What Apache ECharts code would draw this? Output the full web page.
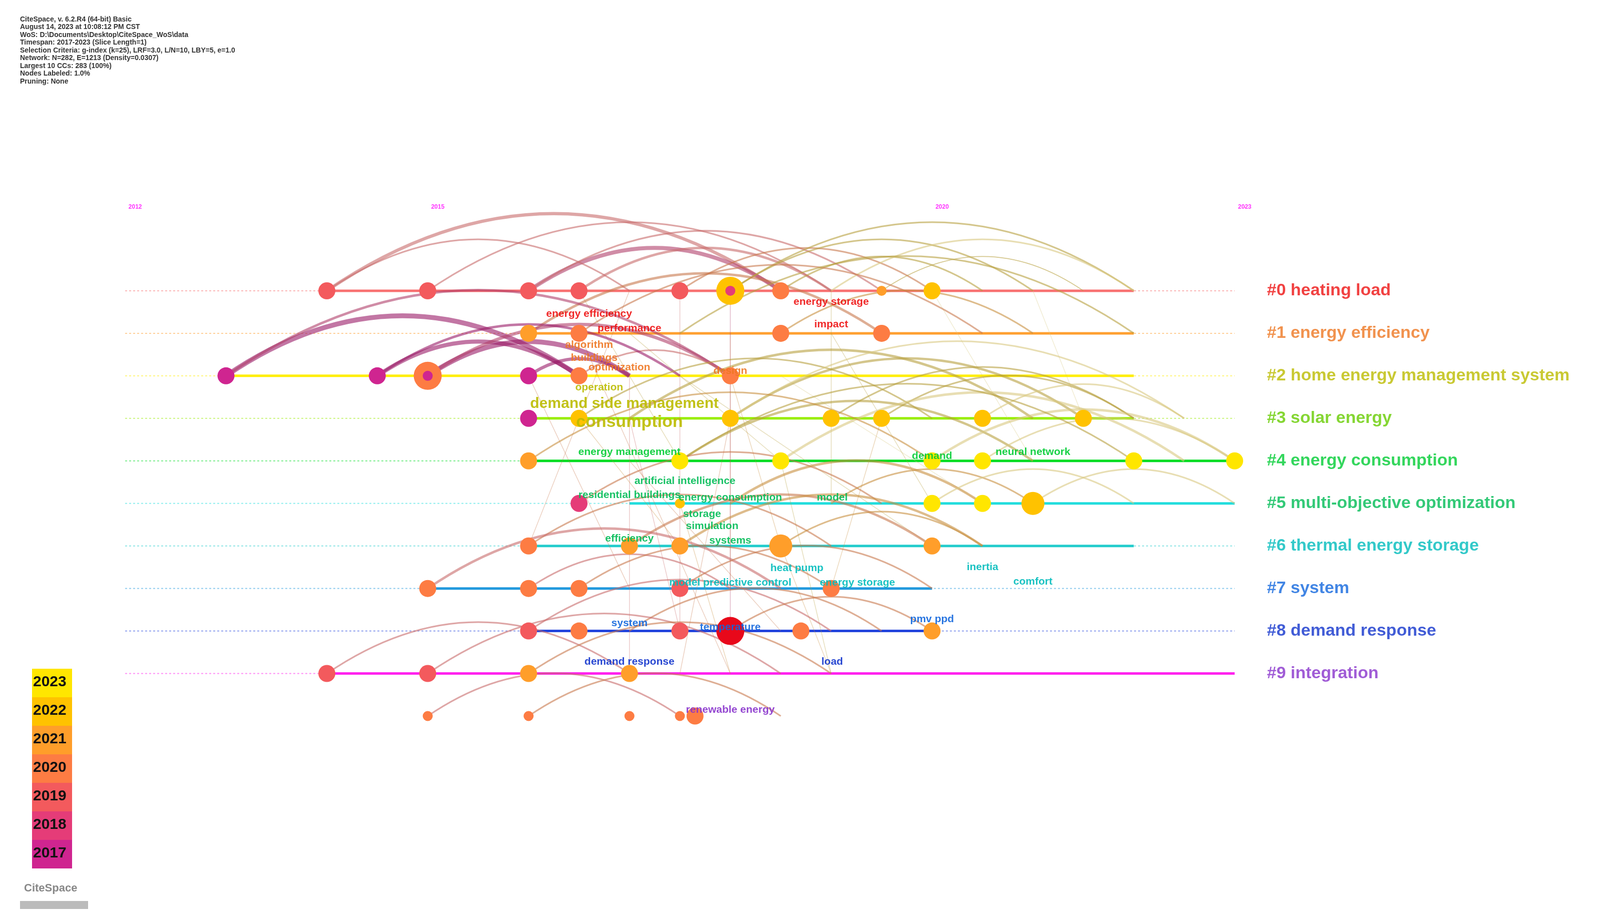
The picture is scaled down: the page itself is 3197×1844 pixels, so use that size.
<!DOCTYPE html>
<html><head><meta charset="utf-8">
<script src="https://cdn.jsdelivr.net/npm/echarts@6/dist/echarts.min.js"></script>
<style>html,body{margin:0;background:#fff}#c{width:3197px;height:1844px}</style></head>
<body><div id="c"></div><script>
const yearTicks = [2012, 2015, 2020, 2023];
const clusterLabels = ['#0 heating load','#1 energy efficiency','#2 home energy management system','#3 solar energy','#4 energy consumption','#5 multi-objective optimization','#6 thermal energy storage','#7 system','#8 demand response','#9 integration'];
const clusterColors = ['#ee1111','#ee7722','#bbbb00','#66cc00','#00cc33','#00bb55','#00bbbb','#1166dd','#1133cc','#8833cc'];
const rowLineColors = ['#f87070','#ffa030','#ffee00','#99ee00','#00dd22','#22dddd','#22cccc','#2299dd','#2244dd','#ff22ee'];
const rowSpans = [[0,2014,2022],[1,2016,2022],[2,2013,2022],[3,2016,2022],[4,2016,2023],[5,2017,2023],[6,2016,2022],[7,2015,2020],[8,2016,2020],[9,2014,2023]];
// nodes [year,row,yearColor,sizeClass]
const nodes = [
[2014,0,2019,0],[2015,0,2019,0],[2016,0,2019,0],[2016.5,0,2019,0],[2017.5,0,2019,0],[2018,0,2022,2],[2018,0,2018,-1],[2018.5,0,2020,0],[2019.5,0,2021,-1],[2020,0,2022,0],
[2016,1,2021,0],[2016.5,1,2020,0],[2018.5,1,2020,0],[2019.5,1,2020,0],
[2013,2,2017,0],[2014.5,2,2017,0],[2015,2,2020,2],[2015,2,2017,-1],[2016,2,2017,0],[2016.5,2,2020,0],[2018,2,2020,0],
[2016,3,2017,0],[2016.5,3,2022,0],[2018,3,2022,0],[2019,3,2022,0],[2019.5,3,2022,0],[2020.5,3,2022,0],[2021.5,3,2022,0],
[2016,4,2021,0],[2017.5,4,2023,0],[2018.5,4,2023,0],[2020,4,2023,0],[2020.5,4,2023,0],[2022,4,2023,0],[2023,4,2023,0],
[2016.5,5,2018,0],[2017.5,5,2022,-1],[2020,5,2023,0],[2020.5,5,2023,0],[2021,5,2022,1],
[2016,6,2020,0],[2017,6,2021,0],[2017.5,6,2021,0],[2018.5,6,2021,1],[2020,6,2021,0],
[2015,7,2020,0],[2016,7,2020,0],[2016.5,7,2020,0],[2017.5,7,2019,0],[2019,7,2020,0],
[2016,8,2019,0],[2016.5,8,2020,0],[2017.5,8,2019,0],[2018,8,2016,3],[2018.7,8,2020,0],[2020,8,2021,0],
[2014,9,2019,0],[2015,9,2019,0],[2016,9,2021,0],[2017,9,2021,0],
[2015,10,2020,-1],[2016,10,2020,-1],[2017,10,2020,-1],[2017.5,10,2020,-1],[2017.65,10,2020,0]
];
// links [row, fromYear, toYear, yearColor, width]
const links = [
[0,2014,2018.5,2019,4],[0,2015,2019,2019,2],[0,2016,2018.5,2018,5],[0,2016,2019.5,2019,2],[0,2016.5,2019,2019,3],[0,2017.5,2020,2020,2],[0,2018,2021,2022,2],[0,2018,2022,2022,2],[0,2018.5,2020.5,2022,2],[0,2019,2022,2023,2],[0,2019.5,2021.5,2022,1],[0,2014,2017,2019,2],
[1,2016,2019.5,2020,3],[1,2016.5,2020.5,2020,2],[1,2018.5,2021,2021,2],[1,2017.5,2022,2022,2],
[2,2013,2016.5,2017,6],[2,2014.5,2016.5,2017,5],[2,2015,2017,2017,6],[2,2016,2017,2017,4],[2,2015,2018,2018,4],[2,2013,2018,2018,3],[2,2016.5,2018,2019,2],[2,2014.5,2017.5,2017,3],
[3,2017,2021,2022,3],[3,2018,2021.5,2022,3],[3,2019,2022,2022,2],[3,2019.5,2022,2022,2],[3,2016.5,2020,2022,2],[3,2020.5,2022.5,2023,2],[3,2018,2022.5,2023,2],
[4,2017.5,2021,2022,3],[4,2018.5,2022.5,2023,3],[4,2020,2023,2023,3],[4,2020.5,2023,2023,2],[4,2016,2020,2021,2],[4,2017.5,2022,2022,2],
[5,2016.5,2019.5,2020,2],[5,2018,2020.5,2021,3],[5,2019,2021,2021,2],[5,2020,2022,2023,2],[5,2021,2023,2023,2],
[6,2016,2019,2020,2],[6,2017,2020,2020,3],[6,2017.5,2020.5,2021,3],[6,2018.5,2020.5,2021,2],
[7,2015,2018.5,2019,3],[7,2016,2018,2019,2],[7,2016.5,2019,2020,2],[7,2017.5,2020,2020,2],
[8,2016,2019,2019,2],[8,2017,2019.5,2020,2],[8,2018,2020,2020,2],
[9,2014,2017,2019,2],[9,2015,2018.5,2019,2],[9,2016,2019,2020,2],
[10,2015,2017.5,2019,2],[10,2016,2018.5,2020,2]
];
// faint cross-cluster links [rowA, yearA, rowB, yearB, yearColor]
const crossLinks = [
[0,2017.5,8,2017.5,2019],[0,2018,8,2018,2018],[2,2017,9,2017,2019],[1,2018,7,2018,2020],[3,2016.5,6,2017.5,2021],[0,2016.5,4,2017.5,2022],
[2,2018,6,2018.5,2021],[1,2019,5,2020,2022],[0,2020,4,2021,2023],[3,2017,8,2017.5,2019],[2,2016,7,2017,2020],[4,2018.5,9,2019,2022],
[1,2016.5,9,2018,2020],[0,2019,5,2019,2022],[2,2017.5,6,2020,2022],[3,2018,9,2017.5,2020],[5,2017.5,9,2018,2021],[0,2017,6,2016,2020],
[1,2017,4,2018.5,2022],[4,2017,8,2018.5,2020],[3,2019.5,7,2019,2021],[2,2018.5,5,2020.5,2023],[0,2021,3,2021.5,2023],[6,2018.5,9,2019,2021]
];
const keywords = [
[2019.0,0.26,'energy storage',0],[2016.6,0.55,'energy efficiency',0],[2017,0.89,'performance',0],[2019,0.79,'impact',0],
[2016.6,1.27,'algorithm',1],[2016.65,1.58,'buildings',1],[2016.9,1.8,'optimization',1],[2018,1.89,'design',1],
[2016.7,2.28,'operation',2],[2016.95,2.66,'demand side management',2],[2017,3.09,'consumption',2],
[2017,3.79,'energy management',4],[2020,3.89,'demand',4],[2021,3.79,'neural network',4],
[2017.55,4.48,'artificial intelligence',5],[2017,4.8,'residential buildings',5],[2018,4.87,'energy consumption',5],[2019.01,4.87,'model',5],[2017.72,5.25,'storage',5],[2017.82,5.54,'simulation',5],[2017,5.83,'efficiency',5],[2018,5.88,'systems',5],
[2018.66,6.52,'heat pump',6],[2020.5,6.5,'inertia',6],[2021,6.84,'comfort',6],[2018,6.86,'model predictive control',6],[2019.26,6.86,'energy storage',6],
[2017,7.82,'system',7],[2018,7.91,'temperature',7],[2020,7.72,'pmv ppd',7],
[2017,8.73,'demand response',8],[2019.01,8.73,'load',8],[2018,9.86,'renewable energy',9]
];
const bigFont = {'demand side management':30,'consumption':34};
const legendYears = [2023,2022,2021,2020,2019,2018,2017];
const nodeColor = {2016:'#e8081a',2017:'#cf2590',2018:'#e53c78',2019:'#f35a5d',2020:'#fd7c43',2021:'#ff9e2a',2022:'#ffc200',2023:'#ffe600'};
const linkColor = {2017:'#9a1a68',2018:'#b0406a',2019:'#c86a6a',2020:'#c8784c',2021:'#c89040',2022:'#b8a040',2023:'#d8c880'};
const headerLines = ['CiteSpace, v. 6.2.R4 (64-bit) Basic','August 14, 2023 at 10:08:12 PM CST','WoS: D:\\Documents\\Desktop\\CiteSpace_WoS\\data','Timespan: 2017-2023 (Slice Length=1)','Selection Criteria: g-index (k=25), LRF=3.0, L/N=10, LBY=5, e=1.0','Network: N=282, E=1213 (Density=0.0307)','Largest 10 CCs: 283 (100%)','Nodes Labeled: 1.0%','Pruning: None'];

const chart = echarts.init(document.getElementById('c'));
const sizeOf = b => b===2?56:b===1?46:b===3?56:b===-1?20:34;
const graphic = [];
headerLines.forEach((t,i)=>graphic.push({type:'text',left:40,top:32+i*15.5,style:{text:t,font:'bold 14px Liberation Sans',fill:'#333'}}));
legendYears.forEach((y,i)=>{
  graphic.push({type:'rect',shape:{x:64,y:1336+i*57,width:80,height:57},style:{fill:nodeColor[y]}});
  graphic.push({type:'text',left:66,top:1348+i*57,style:{text:String(y),font:'bold 30px Liberation Sans',fill:'#111'}});
});
graphic.push({type:'text',left:48,top:1764,style:{text:'CiteSpace',font:'bold 22px Liberation Sans',fill:'#888'}});
graphic.push({type:'rect',shape:{x:40,y:1800,width:136,height:16},style:{fill:'#bbb'}});

chart.setOption({
  animation:false,
  grid:{left:250,width:2217,top:411,height:1062},
  xAxis:{type:'value',min:2012,max:2023,show:false},
  yAxis:{type:'value',min:-2,max:10.5,inverse:true,show:false},
  graphic,
  series:[
    {type:'custom',clip:false,data:rowSpans,z:1,renderItem:(p,api)=>{
      const r=api.value(0),c=rowLineColors[r];
      const a=api.coord([2012,r]),b=api.coord([2023,r]),s=api.coord([api.value(1),r]),e=api.coord([api.value(2),r]);
      return {type:'group',children:[
        {type:'line',shape:{x1:a[0],y1:a[1],x2:b[0],y2:b[1]},style:{stroke:c,lineWidth:2,lineDash:[4,4],opacity:0.5}},
        {type:'line',shape:{x1:s[0],y1:s[1],x2:e[0],y2:e[1]},style:{stroke:c,lineWidth:5}}]};
    }},
    {type:'custom',clip:false,data:crossLinks,z:1,renderItem:(p,api)=>{
      const s=api.coord([api.value(1),api.value(0)]),e=api.coord([api.value(3),api.value(2)]);
      return {type:'line',shape:{x1:s[0],y1:s[1],x2:e[0],y2:e[1]},style:{stroke:linkColor[api.value(4)],lineWidth:1.5,opacity:0.35}};
    }},
    {type:'custom',clip:false,data:links,z:2,renderItem:(p,api)=>{
      const r=api.value(0),s=api.coord([api.value(1),r]),e=api.coord([api.value(2),r]);
      const h=(e[0]-s[0])*0.34;
      return {type:'bezierCurve',shape:{x1:s[0],y1:s[1],x2:e[0],y2:e[1],cpx1:(s[0]+e[0])/2,cpy1:s[1]-h},
        style:{stroke:linkColor[api.value(3)],lineWidth:api.value(4)*1.6,fill:null,opacity:0.6}};
    }},
    {type:'scatter',z:3,data:nodes.map(n=>({value:[n[0],n[1]],symbolSize:sizeOf(n[3]),itemStyle:{color:nodeColor[n[2]],opacity:1}}))},
    {type:'scatter',z:5,symbolSize:0,data:keywords.map(k=>({value:[k[0],k[1]],label:{show:true,position:'inside',formatter:k[2],color:clusterColors[k[3]],fontSize:bigFont[k[2]]||21,fontWeight:'bold',fontFamily:'Liberation Sans',opacity:0.9}}))},
    {type:'scatter',z:5,symbolSize:0,clip:false,data:clusterLabels.map((t,i)=>({value:[2023.32,i],label:{show:true,position:'right',distance:0,formatter:t,color:clusterColors[i],fontSize:34,fontWeight:'bold',fontFamily:'Liberation Sans'}}))},
    {type:'scatter',z:5,symbolSize:0,clip:false,data:yearTicks.map(y=>({value:[y+0.1,-1.97],label:{show:true,position:'inside',formatter:String(y),color:'#ff00ff',fontSize:12,fontWeight:'bold'}}))}
  ]
});
</script></body></html>
